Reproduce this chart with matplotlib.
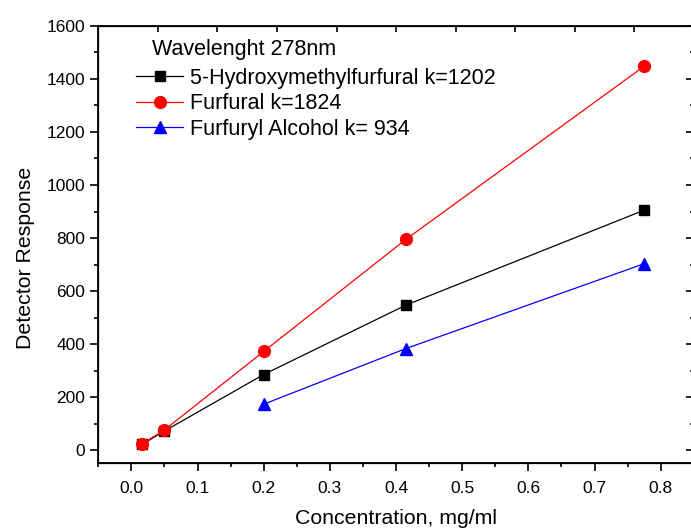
import matplotlib
matplotlib.use("Agg")
import matplotlib.pyplot as plt
from matplotlib.ticker import MultipleLocator

plt.rcParams['font.family'] = ['Liberation Sans', 'DejaVu Sans']

# data
hmf_x = [0.0166, 0.05, 0.2, 0.415, 0.775]
hmf_y = [22, 72, 285, 547, 905]
fur_x = [0.0166, 0.05, 0.2, 0.415, 0.775]
fur_y = [24, 76, 372, 795, 1448]
fa_x = [0.2, 0.415, 0.775]
fa_y = [173, 383, 703]

labels = ["5-Hydroxymethylfurfural k=1202", "Furfural k=1824", "Furfuryl Alcohol k= 934"]

fig = plt.figure(figsize=(6.91, 5.29), dpi=100)
ax = fig.add_axes([0.1423, 0.1242, 0.8617, 0.8267])

ax.plot(hmf_x, hmf_y, color='black', lw=0.9, marker='s', ms=7, label=labels[0])
ax.plot(fur_x, fur_y, color='red', lw=0.9, marker='o', ms=8.5, label=labels[1])
ax.plot(fa_x, fa_y, color='blue', lw=0.9, marker='^', ms=9, label=labels[2])

ax.set_xlim(-0.05, 0.85)
ax.set_ylim(-50, 1600)
ax.xaxis.set_major_locator(MultipleLocator(0.1))
ax.xaxis.set_minor_locator(MultipleLocator(0.05))
ax.yaxis.set_major_locator(MultipleLocator(200))
ax.yaxis.set_minor_locator(MultipleLocator(100))
ax.set_xticks([0.0, 0.1, 0.2, 0.3, 0.4, 0.5, 0.6, 0.7, 0.8])
ax.set_xticklabels(["0.0", "0.1", "0.2", "0.3", "0.4", "0.5", "0.6", "0.7", "0.8"])
ax.tick_params(which='major', direction='out', length=6, width=1.2, labelsize=12.5)
ax.tick_params(which='minor', direction='out', length=3, width=1.2)
ax.tick_params(axis='x', pad=7)

for s in ax.spines.values():
    s.set_linewidth(1.3)

# top axis: plain inward ticks at tenths of the width
top = ax.twiny()
top.set_xlim(0, 1)
top.set_xticks([0.1 * i for i in range(1, 10)])
top.tick_params(axis='x', direction='in', length=4, width=1.2, labeltop=False)

# right axis: inward ticks matching the left scale
right = ax.twinx()
right.set_ylim(-50, 1600)
right.yaxis.set_major_locator(MultipleLocator(200))
right.yaxis.set_minor_locator(MultipleLocator(100))
right.tick_params(which='major', direction='in', length=6, width=1.2, labelright=False)
right.tick_params(which='minor', direction='in', length=3, width=1.2)

ax.set_xlabel("Concentration, mg/ml", fontsize=15.3, labelpad=9)
ax.set_ylabel("Detector Response", fontsize=15.3)
ax.yaxis.set_label_coords(-0.107, 0.469)

ax.text(0.090, 0.947, "Wavelenght 278nm", transform=ax.transAxes, fontsize=15.5,
        va='center', ha='left')
leg = ax.legend(loc='upper left', bbox_to_anchor=(0.063, 0.905), frameon=False,
                fontsize=15.5, handlelength=2.2, handletextpad=0.3, labelspacing=0.22,
                borderaxespad=0, borderpad=0)

fig.savefig("out.png", dpi=100)
